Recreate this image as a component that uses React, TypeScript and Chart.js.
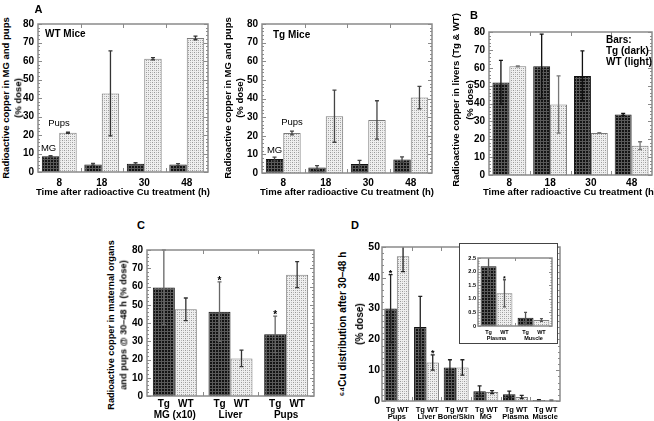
import React, { useEffect, useRef } from "react";
import { Chart, registerables } from "chart.js";
Chart.register(...registerables);

const FONT = 'Arial, "Liberation Sans", Helvetica, sans-serif';

// ---------- Panel A (WT mice) ----------
const timeLabels = ["8", "18", "30", "48"];
const wtMG = [8.5, 4.1, 4.5, 4.0];
const wtMGErr = [0.4, 0.5, 0.5, 0.5];
const wtPups = [21.2, 42.5, 61.2, 72.5];
const wtPupsErr = [0.3, 23, 0.6, 1.0];
// ---------- Panel A (Tg mice) ----------
const tgMG = [7.5, 3.0, 4.8, 7.2];
const tgMGErr = [1.0, 1.0, 2.0, 1.5];
const tgPups = [21.5, 30.5, 28.5, 40.5];
const tgPupsErr = [1.0, 14, 10.3, 6];
// ---------- Panel B (livers) ----------
const liverTg = [51.8, 60.8, 55.4, 33.9];
const liverTgErr = [12.3, 18, 14, 0.6];
const liverWT = [60.8, 39.5, 23.5, 16.4];
const liverWTErr = [0.3, 16, 0.2, 2.2];
// ---------- Panel C ----------
const cGroups = ["MG (x10)", "Liver", "Pups"];
const cTg = [59.5, 46.2, 33.8];
const cTgErr = [20.5, 16.3, 10];
const cWT = [47.5, 20.6, 66.5];
const cWTErr = [6.2, 4.5, 7.1];
const cTgStar = [false, true, true];
// ---------- Panel D ----------
const dGroups = ["Pups", "Liver", "Bone/Skin", "MG", "Plasma", "Muscle"];
const dTg = [30, 24, 10.9, 3.2, 2.2, 0.3];
const dTgErr = [11, 10, 2.5, 1.7, 1.0, 0.15];
const dWT = [47, 12.5, 10.9, 2.9, 1.3, 0.2];
const dWTErr = [5, 2.5, 2.5, 0.5, 0.5, 0.1];
const dTgStar = [true, false, false, false, false, false];
const dWTStar = [false, true, false, false, false, false];
// ---------- Panel D inset ----------
const insetGroups = ["Plasma", "Muscle"];
const insetTg = [2.2, 0.3];
const insetTgErr = [0.35, 0.2];
const insetWT = [1.2, 0.22];
const insetWTErr = [0.5, 0.05];
const insetWTStar = [true, false];
const seriesNames = ["Tg", "WT"];

type Series = { data: number[]; err: number[]; kind: "dark" | "light"; stars?: boolean[]; errColor: string };
type PanelCfg = {
  L: number; T: number; W: number; H: number;
  area: { l: number; t: number; r: number; b: number };
  labels: string[];
  series: Series[];
  yMax: number; yStep: number; yMinor: number;
  tickSize: number; tickPad: number; xPad: number;
  showX: boolean;
  catPct: number; capW: number; tickLen: number;
  groups?: { sub: number; grp: number; size: number };
  starSize?: number;
  extra?: (chart: any, ctx: CanvasRenderingContext2D, a: any) => void;
};

function makePattern(ctx: CanvasRenderingContext2D, kind: string) {
  const c = document.createElement("canvas");
  if (kind === "dark") {
    c.width = 3; c.height = 3;
    const g = c.getContext("2d")!;
    g.fillStyle = "#141414"; g.fillRect(0, 0, 3, 3);
    g.fillStyle = "#5a5a5a"; g.fillRect(0, 0, 3, 1); g.fillRect(0, 0, 1, 3);
  } else {
    c.width = 4; c.height = 4;
    const g = c.getContext("2d")!;
    g.fillStyle = "#efefef"; g.fillRect(0, 0, 4, 4);
    g.fillStyle = "#999999"; g.fillRect(0, 0, 1, 1); g.fillRect(2, 2, 1, 1);
    g.fillStyle = "#bdbdbd"; g.fillRect(2, 0, 1, 1); g.fillRect(0, 2, 1, 1);
  }
  return ctx.createPattern(c, "repeat");
}

function barInfo(chart: any, ds: number, i: number) {
  const el = chart.getDatasetMeta(ds).data[i];
  const d = chart.data.datasets[ds];
  const y = chart.scales.y;
  return { x: el.x, top: y.getPixelForValue(d.data[i]), errTop: y.getPixelForValue(d.data[i] + d.errors[i]) };
}

function txt(ctx: CanvasRenderingContext2D, s: string, x: number, y: number, size: number, bold = true, align: CanvasTextAlign = "center") {
  ctx.save();
  ctx.fillStyle = "#000";
  ctx.font = `${bold ? "bold " : ""}${size}px ${FONT}`;
  ctx.textAlign = align;
  ctx.textBaseline = "middle";
  ctx.fillText(s, x, y);
  ctx.restore();
}

function buildChart(canvas: HTMLCanvasElement, p: PanelCfg) {
  const ctx = canvas.getContext("2d")!;
  const pats: any = { dark: makePattern(ctx, "dark"), light: makePattern(ctx, "light") };
  const yw = p.area.l - p.L;
  const pr = p.L + p.W - p.area.r;
  const pt = p.area.t - p.T;
  const xh = p.T + p.H - p.area.b;
  const font = { family: FONT, size: p.tickSize, weight: "bold" as const };

  const errPlugin = {
    id: "errs",
    afterDatasetsDraw(chart: any) {
      const c = chart.ctx, a = chart.chartArea, y = chart.scales.y;
      c.save();
      chart.data.datasets.forEach((d: any, di: number) => {
        const meta = chart.getDatasetMeta(di);
        meta.data.forEach((el: any, i: number) => {
          const v = d.data[i], e = d.errors[i];
          let top = y.getPixelForValue(v + e);
          const bot = y.getPixelForValue(Math.max(v - e, 0));
          const capTop = top >= a.top;
          top = Math.max(top, a.top);
          c.strokeStyle = d.errColor;
          c.lineWidth = 1.3;
          c.beginPath();
          c.moveTo(el.x, top); c.lineTo(el.x, bot);
          if (capTop) { c.moveTo(el.x - p.capW / 2, top); c.lineTo(el.x + p.capW / 2, top); }
          c.moveTo(el.x - p.capW / 2, bot); c.lineTo(el.x + p.capW / 2, bot);
          c.stroke();
          if (d.stars && d.stars[i]) {
            txt(c, "*", el.x, top - 1 , p.starSize || 10, true);
          }
        });
      });
      c.restore();
    },
  };

  const framePlugin = {
    id: "frame",
    afterDatasetsDraw(chart: any) {
      const c = chart.ctx, a = chart.chartArea, y = chart.scales.y, x = chart.scales.x;
      c.save();
      c.strokeStyle = "#8a8a8a";
      c.lineWidth = 1.5;
      c.strokeRect(a.left, a.top, a.right - a.left, a.bottom - a.top);
      c.lineWidth = 1;
      c.beginPath();
      const n = Math.round(p.yMax / p.yMinor);
      for (let k = 0; k <= n; k++) {
        const v = k * p.yMinor;
        const yy = Math.round(y.getPixelForValue(v)) + 0.5;
        const r = v / p.yStep;
        const major = Math.abs(r - Math.round(r)) < 1e-6;
        const len = major ? p.tickLen : p.tickLen / 2;
        c.moveTo(a.left, yy); c.lineTo(a.left + len, yy);
        c.moveTo(a.right, yy); c.lineTo(a.right - len, yy);
      }
      const m = chart.data.labels.length;
      for (let i = 0; i < m - 1; i++) {
        const xx = Math.round((x.getPixelForValue(i) + x.getPixelForValue(i + 1)) / 2) + 0.5;
        c.moveTo(xx, a.bottom); c.lineTo(xx, a.bottom - p.tickLen);
        c.moveTo(xx, a.top); c.lineTo(xx, a.top + p.tickLen);
      }
      c.stroke();
      c.restore();
    },
  };

  const annotPlugin = {
    id: "annot",
    afterDraw(chart: any) {
      const c = chart.ctx, a = chart.chartArea;
      if (p.groups) {
        const g = p.groups;
        chart.data.labels.forEach((lab: string, i: number) => {
          chart.data.datasets.forEach((_d: any, di: number) => {
            const el = chart.getDatasetMeta(di).data[i];
            txt(c, seriesNames[di], el.x, a.bottom + g.sub, g.size, true);
          });
          txt(c, lab, chart.scales.x.getPixelForValue(i), a.bottom + g.grp, g.size, true);
        });
      }
      if (p.extra) p.extra(chart, c, a);
    },
  };

  return new Chart(canvas, {
    type: "bar",
    data: {
      labels: p.labels,
      datasets: p.series.map((s) => ({
        data: s.data,
        errors: s.err,
        stars: s.stars,
        errColor: s.errColor,
        backgroundColor: pats[s.kind],
        borderColor: s.kind === "dark" ? "#111" : "#7a7a7a",
        borderWidth: 1,
        categoryPercentage: p.catPct,
        barPercentage: 1,
      })) as any,
    },
    options: {
      animation: false,
      responsive: false,
      maintainAspectRatio: false,
      devicePixelRatio: 1,
      events: [],
      layout: { padding: { left: 0, right: pr, top: pt, bottom: 0 } },
      plugins: { legend: { display: false }, tooltip: { enabled: false }, title: { display: false } },
      scales: {
        x: {
          grid: { display: false, drawTicks: false },
          border: { display: false },
          ticks: { display: p.showX, font, color: "#000", padding: p.xPad, maxRotation: 0, autoSkip: false },
          afterFit: (s: any) => { s.height = xh; },
        },
        y: {
          min: 0,
          max: p.yMax,
          grid: { display: false, drawTicks: false },
          border: { display: false },
          ticks: { stepSize: p.yStep, font, color: "#000", padding: p.tickPad },
          afterFit: (s: any) => { s.width = yw; },
        },
      },
    } as any,
    plugins: [errPlugin, framePlugin, annotPlugin],
  });
}

function Panel({ cfg }: { cfg: PanelCfg }) {
  const ref = useRef<HTMLCanvasElement>(null);
  useEffect(() => {
    const chart = buildChart(ref.current!, cfg);
    return () => chart.destroy();
  }, []);
  return (
    <canvas
      ref={ref}
      width={cfg.W}
      height={cfg.H}
      style={{ position: "absolute", left: cfg.L, top: cfg.T, width: cfg.W, height: cfg.H }}
    />
  );
}

function Txt({ x, y, s, size = 9.5, bold = true, rot = false }: { x: number; y: number; s: string; size?: number; bold?: boolean; rot?: boolean }) {
  return (
    <div
      style={{
        position: "absolute", left: x, top: y,
        transform: `translate(-50%,-50%)${rot ? " rotate(-90deg)" : ""}`,
        font: `${bold ? "bold " : ""}${size}px ${FONT}`,
        whiteSpace: "nowrap", lineHeight: 1, color: "#000",
      }}
    >
      {s}
    </div>
  );
}

const panelAWT: PanelCfg = {
  L: 14, T: 12, W: 200, H: 180, area: { l: 38, t: 24, r: 208, b: 172 },
  labels: timeLabels,
  series: [
    { data: wtMG, err: wtMGErr, kind: "dark", errColor: "#444" },
    { data: wtPups, err: wtPupsErr, kind: "light", errColor: "#333" },
  ],
  yMax: 80, yStep: 10, yMinor: 2, tickSize: 10, tickPad: 4, xPad: 5, showX: true,
  catPct: 0.82, capW: 4, tickLen: 4,
  extra: (chart, c, a) => {
    txt(c, "WT Mice", a.left + 7, a.top + 10.5, 10, true, "left");
    const mg = barInfo(chart, 0, 0);
    txt(c, "MG", mg.x - 2, mg.errTop - 7, 9.5, false);
    const pu = barInfo(chart, 1, 0);
    txt(c, "Pups", pu.x - 9, pu.errTop - 9, 9.5, false);
  },
};

const panelATg: PanelCfg = {
  L: 238, T: 12, W: 200, H: 181, area: { l: 262, t: 24, r: 432, b: 173 },
  labels: timeLabels,
  series: [
    { data: tgMG, err: tgMGErr, kind: "dark", errColor: "#444" },
    { data: tgPups, err: tgPupsErr, kind: "light", errColor: "#444" },
  ],
  yMax: 80, yStep: 10, yMinor: 2, tickSize: 10, tickPad: 4, xPad: 4, showX: true,
  catPct: 0.82, capW: 4, tickLen: 4,
  extra: (chart, c, a) => {
    txt(c, "Tg Mice", a.left + 11, a.top + 11.5, 10, true, "left");
    const mg = barInfo(chart, 0, 0);
    txt(c, "MG", mg.x, mg.errTop - 7, 9.5, false);
    const pu = barInfo(chart, 1, 0);
    txt(c, "Pups", pu.x, pu.errTop - 9, 9.5, false);
  },
};

const panelB: PanelCfg = {
  L: 465, T: 18, W: 189, H: 173, area: { l: 489, t: 32, r: 652, b: 175 },
  labels: timeLabels,
  series: [
    { data: liverTg, err: liverTgErr, kind: "dark", errColor: "#111" },
    { data: liverWT, err: liverWTErr, kind: "light", errColor: "#777" },
  ],
  yMax: 80, yStep: 10, yMinor: 2, tickSize: 10, tickPad: 4, xPad: 2, showX: true,
  catPct: 0.83, capW: 4, tickLen: 4,
  extra: (_chart, c, a) => {
    txt(c, "Bars:", a.right - 46, a.top + 8, 10, true, "left");
    txt(c, "Tg (dark)", a.right - 46, a.top + 19, 10, true, "left");
    txt(c, "WT (light)", a.right - 46, a.top + 30, 10, true, "left");
  },
};

const panelC: PanelCfg = {
  L: 125, T: 238, W: 195, H: 183, area: { l: 147, t: 250, r: 314, b: 396 },
  labels: cGroups,
  series: [
    { data: cTg, err: cTgErr, kind: "dark", errColor: "#666", stars: cTgStar },
    { data: cWT, err: cWTErr, kind: "light", errColor: "#333" },
  ],
  yMax: 80, yStep: 10, yMinor: 2, tickSize: 10, tickPad: 4, xPad: 2, showX: false,
  catPct: 0.79, capW: 4, tickLen: 4,
  groups: { sub: 8, grp: 19, size: 10 },
  starSize: 10,
};

const panelD: PanelCfg = {
  L: 358, T: 235, W: 208, H: 186, area: { l: 382, t: 247, r: 560, b: 401 },
  labels: dGroups,
  series: [
    { data: dTg, err: dTgErr, kind: "dark", errColor: "#222", stars: dTgStar },
    { data: dWT, err: dWTErr, kind: "light", errColor: "#222", stars: dWTStar },
  ],
  yMax: 50, yStep: 10, yMinor: 2, tickSize: 10.5, tickPad: 2, xPad: 2, showX: false,
  catPct: 0.84, capW: 4, tickLen: 4,
  groups: { sub: 9, grp: 16, size: 7.5 },
  starSize: 9,
};

const panelInset: PanelCfg = {
  L: 460, T: 246, W: 96, H: 96, area: { l: 478, t: 258, r: 552, b: 326 },
  labels: insetGroups,
  series: [
    { data: insetTg, err: insetTgErr, kind: "dark", errColor: "#555" },
    { data: insetWT, err: insetWTErr, kind: "light", errColor: "#555", stars: insetWTStar },
  ],
  yMax: 2.5, yStep: 0.5, yMinor: 0.1, tickSize: 5.5, tickPad: 2, xPad: 2, showX: false,
  catPct: 0.86, capW: 3, tickLen: 3,
  groups: { sub: 6, grp: 12, size: 5.5 },
  starSize: 7,
};

export default function App() {
  const xTitle = "Time after radioactive Cu treatment (h)";
  return (
    <div style={{ position: "fixed", left: 0, top: 0, width: 654, height: 421, background: "#fff", overflow: "hidden" }}>
      <Panel cfg={panelAWT} />
      <Panel cfg={panelATg} />
      <Panel cfg={panelB} />
      <Panel cfg={panelC} />
      <Panel cfg={panelD} />
      <div style={{ position: "absolute", left: 459, top: 243, width: 97, height: 99, border: "1px solid #444", background: "#fff" }} />
      <Panel cfg={panelInset} />

      <Txt x={38.5} y={8.5} s="A" size={11} />
      <Txt x={474} y={15} s="B" size={11} />
      <Txt x={141} y={225} s="C" size={11} />
      <Txt x={355} y={225} s="D" size={11} />

      <Txt x={6} y={98} s="Radioactive copper in MG and pups" rot />
      <Txt x={18} y={98} s="(% dose)" rot />
      <Txt x={228} y={98} s="Radioactive copper in MG and pups" rot />
      <Txt x={240} y={98} s="(% dose)" rot />
      <Txt x={456} y={100} s="Radioactive copper in livers (Tg & WT)" rot />
      <Txt x={470} y={100} s="(% dose)" rot />
      <Txt x={112} y={325} s="Radioactive copper in maternal organs" size={9.2} rot />
      <Txt x={124} y={325} s="and pups @ 30–48 h (% dose)" size={9.2} rot />
      <Txt x={343} y={324} s="⁶⁴Cu distribution after 30–48 h" size={10} rot />
      <Txt x={360} y={324} s="(% dose)" size={10} rot />

      <Txt x={123} y={192} s={xTitle} />
      <Txt x={347} y={192} s={xTitle} />
      <Txt x={570} y={192} s={xTitle} />
    </div>
  );
}
